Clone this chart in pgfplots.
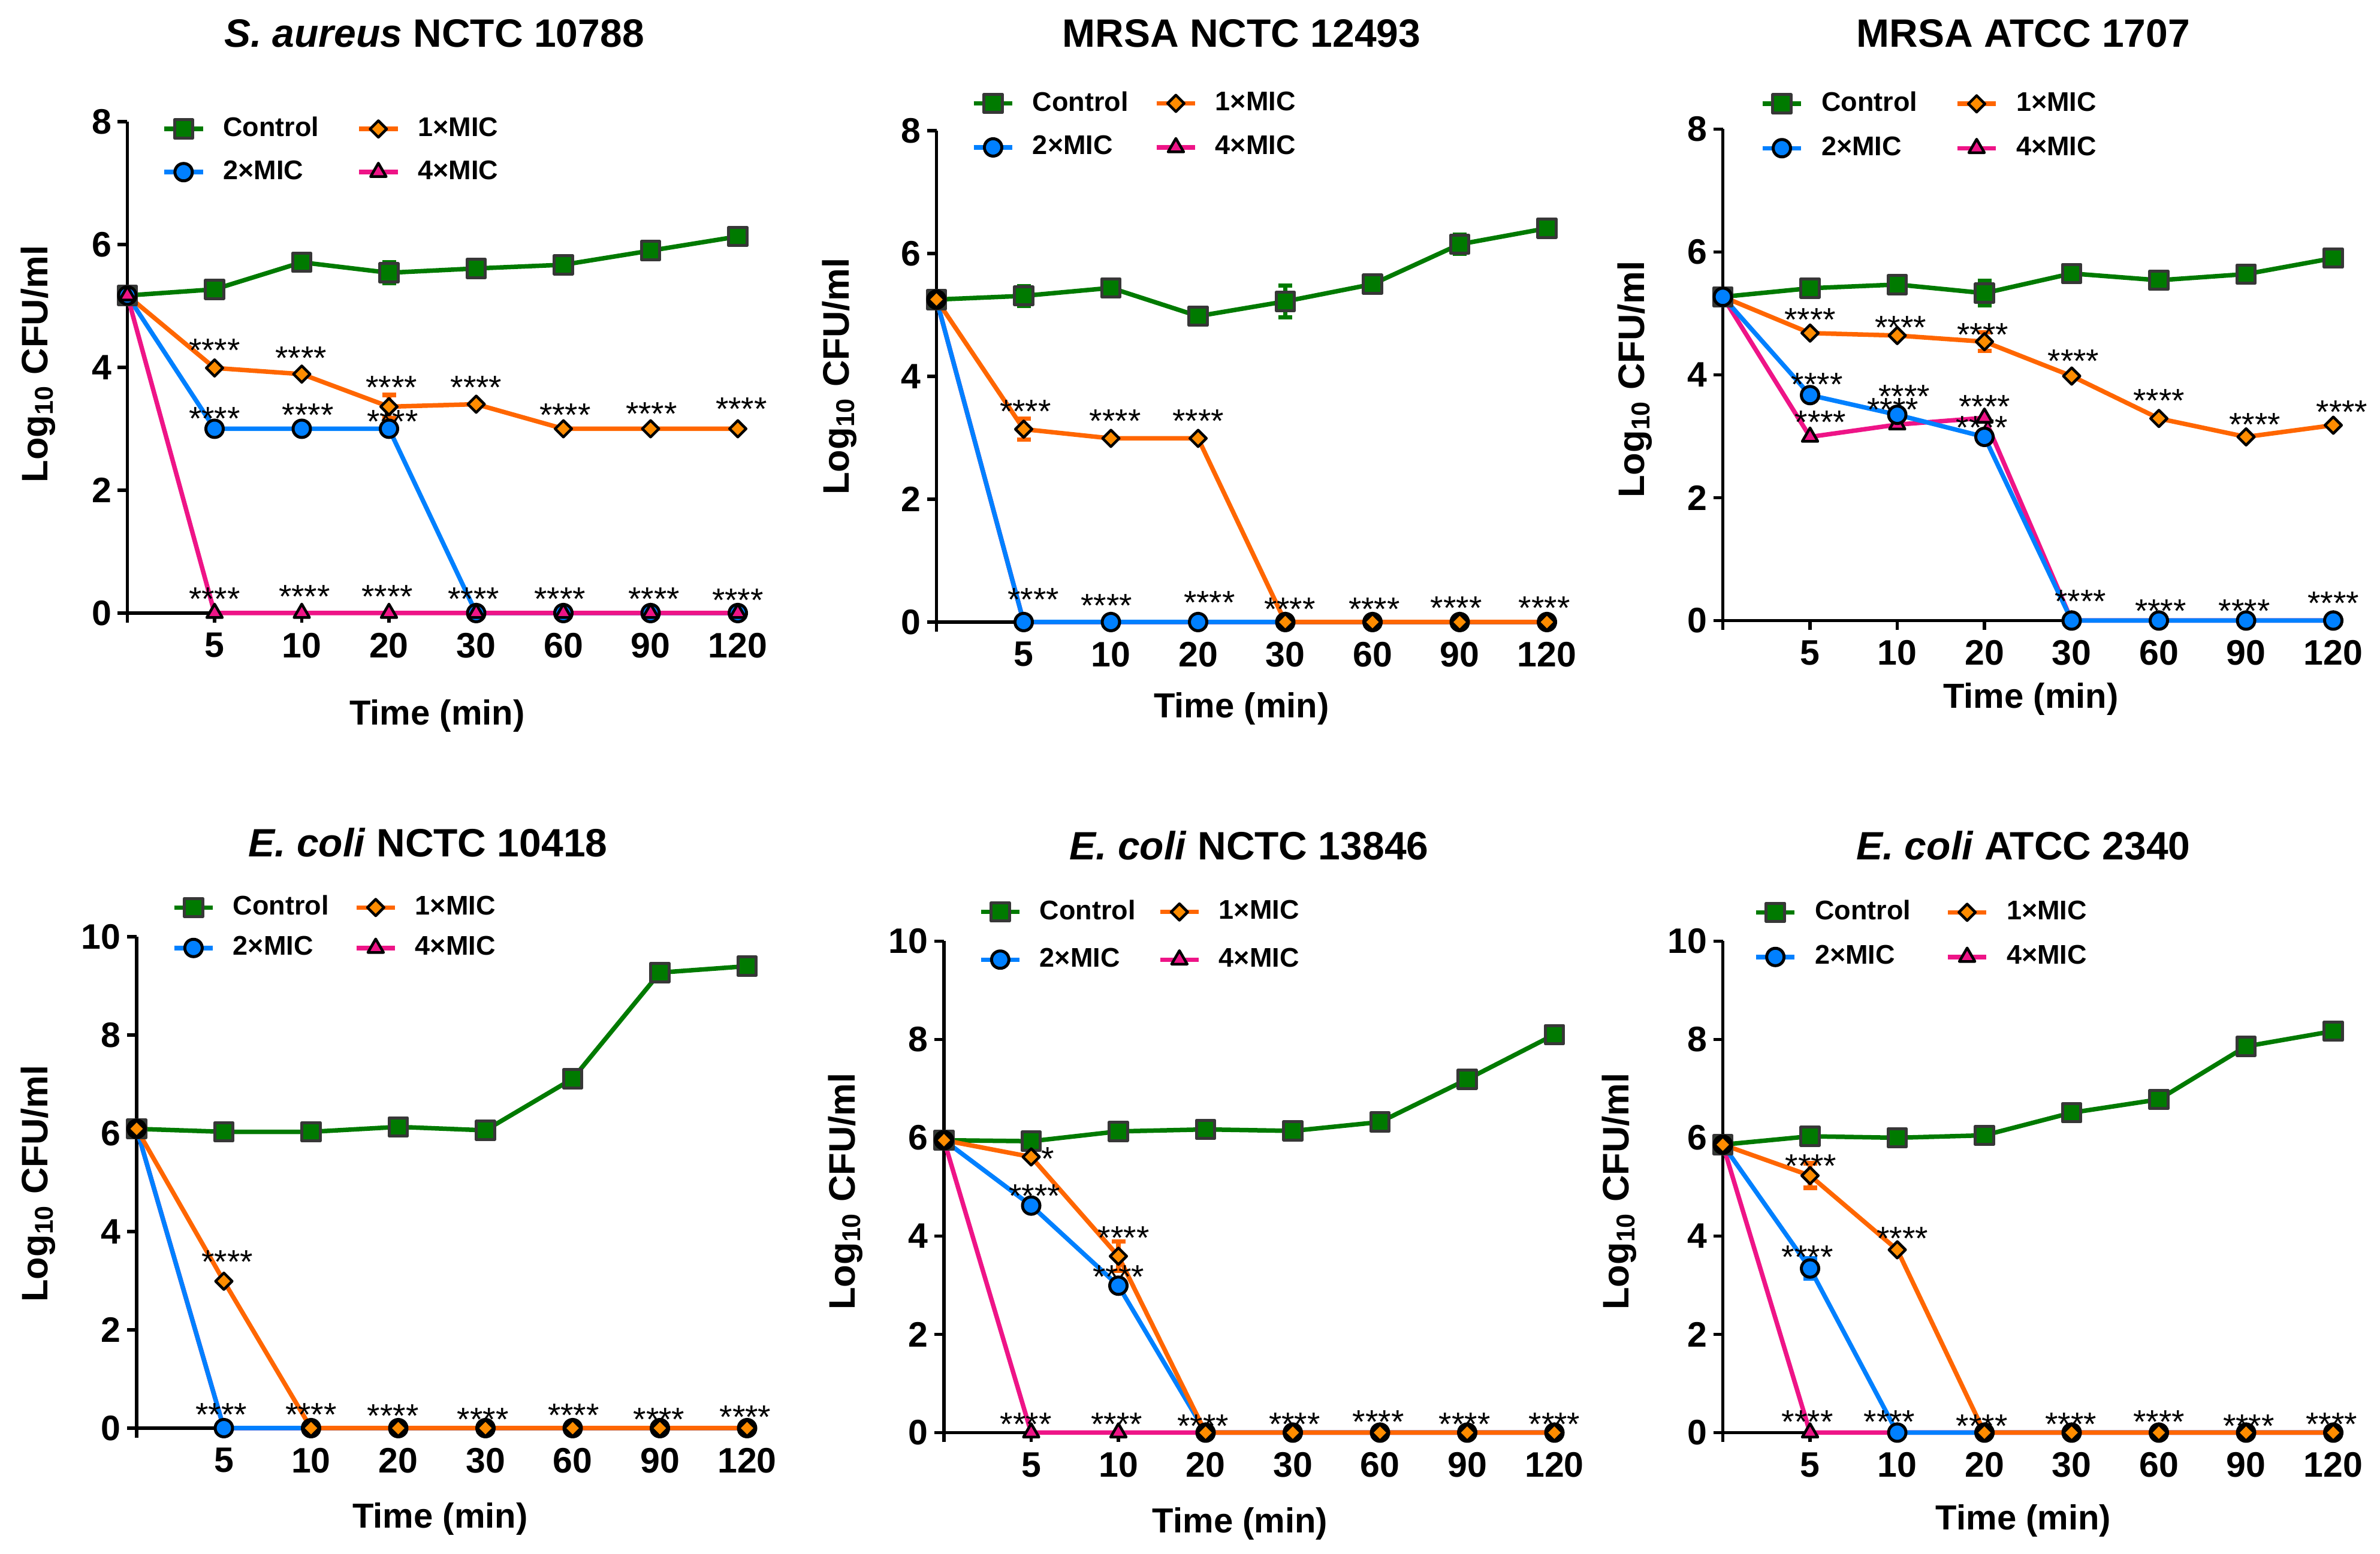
\documentclass[border=0pt]{standalone}
\usepackage{fontspec}
\setmainfont{Liberation Sans}
\usepackage{pgfplots}
\pgfplotsset{compat=1.18}
\usetikzlibrary{plotmarks}

\definecolor{cgreen}{RGB}{0,122,0}
\definecolor{cedge}{RGB}{55,55,55}
\definecolor{corange}{RGB}{255,102,0}
\definecolor{cofill}{RGB}{255,140,0}
\definecolor{cblue}{RGB}{0,128,255}
\definecolor{cpink}{RGB}{238,20,135}

\pgfplotsset{
  ctrl/.style={cgreen, line width=1.5pt, line join=round, mark=square*, mark size=3.05pt,
    mark options={solid, fill=cgreen, draw=cedge, line width=1.0pt, line join=round, rotate=0}},
  one/.style={corange, line width=1.5pt, line join=round, mark=square*, mark size=1.95pt,
    mark options={solid, rotate=45, fill=cofill, draw=black, line width=0.9pt}},
  two/.style={cblue, line width=1.5pt, line join=round, mark=*, mark size=2.9pt,
    mark options={solid, fill=cblue, draw=black, line width=1.0pt}},
  four/.style={cpink, line width=1.5pt, line join=round, mark=triangle*, mark size=3.0pt,
    mark options={solid, fill=cpink, draw=black, line width=0.9pt, line join=round}},
  eb/.style={error bars/y dir=both, error bars/y explicit,
    error bars/error bar style={line width=1.5pt},
    error bars/error mark options={rotate=90, line width=1.5pt, mark size=2.3pt}},
  panel/.style={
    anchor=origin, x=29.1pt, xmin=0, xmax=7.1, ymin=0,
    axis x line*=bottom, axis y line*=left,
    axis line style={line width=1.1pt, black},
    every tick/.style={black, line width=1.1pt},
    major tick length=3.2pt, tick align=outside,
    xtick={0,...,7}, xticklabels={,5,10,20,30,60,90,120},
    ticklabel style={font=\fontsize{11.8}{13}\bfseries},
    xticklabel style={anchor=north, inner sep=0pt, yshift=-3.2pt},
    yticklabel style={anchor=east, inner sep=0pt, xshift=-1.9pt},
    clip=false,
    legend columns=2, legend cell align=left,
    legend image code/.code={\draw[mark repeat=2,mark phase=2,##1] plot coordinates {(0pt,0pt) (6.45pt,0pt) (12.9pt,0pt)};},
    legend style={draw=none, fill=none, inner sep=0pt, outer sep=0pt, anchor=west,
      nodes={inner sep=0pt, font=\fontsize{9}{10}\bfseries},
      /tikz/column 1/.style={column sep=6.0pt},
      /tikz/column 3/.style={column sep=6.0pt}},
  },
  top/.style={y=20.5pt, ymax=8, ytick={0,2,4,6,8}, yticklabels={0,2,4,6,8}},
  bot/.style={y=16.4pt, ymax=10, ytick={0,2,4,6,8,10}, yticklabels={0,2,4,6,8,10}},
}
\tikzset{stn/.style={anchor=base, yshift=-6.3pt, inner sep=0pt, font=\fontsize{11}{12}\selectfont},
  ttl/.style={font=\fontsize{13.2}{15}\bfseries, inner sep=0pt},
  xl/.style={font=\fontsize{11.6}{13}\bfseries, inner sep=0pt},
  yl/.style={font=\fontsize{12.3}{14}\bfseries, inner sep=0pt, rotate=90}}
\newcommand{\st}[3][****]{\node[stn] at (axis cs:#2,#3) {#1};}
\newcommand{\legs}{%
  \addlegendimage{ctrl}\addlegendentry{Control}
  \addlegendimage{one}\addlegendentry{1×MIC}
  \addlegendimage{two}\addlegendentry{2×MIC}
  \addlegendimage{four}\addlegendentry{4×MIC}}

\begin{document}
\begin{tikzpicture}
\useasboundingbox (0,0) rectangle (794.2pt,518.6pt);

% ---------- Panel 1 ----------
\begin{axis}[panel, top, at={(42.5pt,314.0pt)},
  legend style={at={(0.056,0.9415)}, row sep=6.5pt, /tikz/column 2/.style={column sep=12.6pt}}]
\legs
\addplot[ctrl, forget plot, eb] table[row sep=\\, y error=e]{x y e\\ 0 5.17 0\\ 1 5.27 0\\ 2 5.71 0\\ 3 5.54 0.17\\ 4 5.61 0\\ 5 5.67 0\\ 6 5.90 0\\ 7 6.13 0\\};
\addplot[one, forget plot, eb] table[row sep=\\, y error=e]{x y e\\ 0 5.17 0\\ 1 3.99 0\\ 2 3.89 0\\ 3 3.36 0.19\\ 4 3.40 0\\ 5 3.00 0\\ 6 3.00 0\\ 7 3.00 0\\};
\addplot[two, forget plot] coordinates {(0,5.17) (1,3) (2,3) (3,3) (4,0) (5,0) (6,0) (7,0)};
\addplot[four, forget plot] coordinates {(0,5.17) (1,0) (2,0) (3,0) (4,0) (5,0) (6,0) (7,0)};
\st{1.00}{4.40}\st{1.99}{4.27}\st{3.03}{3.79}\st{4.0}{3.79}\st{5.02}{3.35}\st{6.01}{3.37}\st{7.04}{3.44}
\st{1.0}{3.29}\st{2.07}{3.35}\st{3.04}{3.24}
\st{1.0}{0.35}\st{2.03}{0.39}\st{2.98}{0.39}\st{3.97}{0.35}\st{4.96}{0.35}\st{6.04}{0.35}\st{7.0}{0.33}
\end{axis}

% ---------- Panel 2 ----------
\begin{axis}[panel, top, at={(312.5pt,311.0pt)},
  legend style={at={(0.0566,1.011)}, row sep=6.8pt, /tikz/column 2/.style={column sep=8.6pt}}]
\legs
\addplot[ctrl, forget plot, eb] table[row sep=\\, y error=e]{x y e\\ 0 5.25 0\\ 1 5.31 0.16\\ 2 5.44 0\\ 3 4.98 0\\ 4 5.22 0.26\\ 5 5.50 0.10\\ 6 6.15 0.15\\ 7 6.41 0\\};
\addplot[four, forget plot] coordinates {(0,5.25) (1,0) (2,0) (3,0) (4,0) (5,0) (6,0) (7,0)};
\addplot[two, forget plot] coordinates {(0,5.25) (1,0) (2,0) (3,0) (4,0) (5,0) (6,0) (7,0)};
\addplot[one, forget plot, eb] table[row sep=\\, y error=e]{x y e\\ 0 5.25 0\\ 1 3.14 0.17\\ 2 2.99 0\\ 3 2.99 0\\ 4 0 0\\ 5 0 0\\ 6 0 0\\ 7 0 0\\};
\st{1.02}{3.55}\st{2.05}{3.39}\st{3.0}{3.39}
\st{1.11}{0.49}\st{1.95}{0.39}\st{3.13}{0.44}\st{4.05}{0.33}\st{5.02}{0.33}\st{5.96}{0.35}\st{6.97}{0.35}
\end{axis}

% ---------- Panel 3 ----------
\begin{axis}[panel, top, at={(574.9pt,311.5pt)},
  legend style={at={(0.0605,1.0067)}, row sep=6.9pt, /tikz/column 2/.style={column sep=12.6pt}}]
\legs
\addplot[ctrl, forget plot, eb] table[row sep=\\, y error=e]{x y e\\ 0 5.27 0\\ 1 5.41 0\\ 2 5.47 0\\ 3 5.33 0.20\\ 4 5.65 0.12\\ 5 5.54 0.12\\ 6 5.64 0\\ 7 5.90 0\\};
\addplot[one, forget plot, eb] table[row sep=\\, y error=e]{x y e\\ 0 5.27 0\\ 1 4.68 0\\ 2 4.64 0\\ 3 4.54 0.15\\ 4 3.98 0\\ 5 3.29 0\\ 6 2.99 0\\ 7 3.18 0\\};
\addplot[four, forget plot] coordinates {(0,5.27) (1,2.99) (2,3.19) (3,3.30) (4,0) (5,0) (6,0) (7,0)};
\addplot[two, forget plot] coordinates {(0,5.27) (1,3.67) (2,3.35) (3,2.99) (4,0) (5,0) (6,0) (7,0)};
\st{1.0}{5.02}\st{2.04}{4.89}\st{2.98}{4.78}\st{4.02}{4.35}\st{5.0}{3.70}\st{6.10}{3.31}\st{7.1}{3.52}
\st{1.08}{3.97}\st{1.95}{3.56}\st{3.0}{3.60}\st{1.12}{3.35}\st{2.08}{3.77}\st{2.97}{3.26}
\st{4.1}{0.43}\st{5.02}{0.28}\st{5.98}{0.28}\st{7.0}{0.40}
\end{axis}

% ---------- Panel 4 ----------
\begin{axis}[panel, bot, at={(45.6pt,42.0pt)},
  legend style={at={(0.057,1.0186)}, row sep=5.6pt, /tikz/column 2/.style={column sep=8.4pt}}]
\legs
\addplot[ctrl, forget plot] coordinates {(0,6.09) (1,6.03) (2,6.03) (3,6.13) (4,6.06) (5,7.11) (6,9.27) (7,9.40)};
\addplot[four, forget plot] coordinates {(0,6.09) (1,0) (2,0) (3,0) (4,0) (5,0) (6,0) (7,0)};
\addplot[two, forget plot] coordinates {(0,6.09) (1,0) (2,0) (3,0) (4,0) (5,0) (6,0) (7,0)};
\addplot[one, forget plot] coordinates {(0,6.09) (1,2.99) (2,0) (3,0) (4,0) (5,0) (6,0) (7,0)};
\st{1.04}{3.54}
\st{0.97}{0.43}\st{2.0}{0.43}\st{2.94}{0.40}\st{3.97}{0.33}\st{5.01}{0.42}\st{5.99}{0.33}\st{6.98}{0.38}
\end{axis}

% ---------- Panel 5 ----------
\begin{axis}[panel, bot, at={(315.0pt,40.5pt)},
  legend style={at={(0.056,1.0113)}, row sep=8.0pt, /tikz/column 2/.style={column sep=7.4pt}}]
\legs
\addplot[ctrl, forget plot] coordinates {(0,5.95) (1,5.93) (2,6.13) (3,6.17) (4,6.14) (5,6.32) (6,7.19) (7,8.10)};
\addplot[four, forget plot] coordinates {(0,5.95) (1,0) (2,0) (3,0) (4,0) (5,0) (6,0) (7,0)};
\addplot[two, forget plot] coordinates {(0,5.95) (1,4.62) (2,2.99) (3,0) (4,0) (5,0) (6,0) (7,0)};
\addplot[one, forget plot, eb] table[row sep=\\, y error=e]{x y e\\ 0 5.95 0\\ 1 5.61 0\\ 2 3.59 0.30\\ 3 0 0\\ 4 0 0\\ 5 0 0\\ 6 0 0\\ 7 0 0\\};
\st[*]{1.19}{5.72}
\st{1.04}{4.97}\st{2.06}{4.12}\st{2.0}{3.32}
\st{0.94}{0.32}\st{1.98}{0.32}\st{2.97}{0.29}\st{4.02}{0.32}\st{4.98}{0.37}\st{5.97}{0.32}\st{7.0}{0.32}
\end{axis}

% ---------- Panel 6 ----------
\begin{axis}[panel, bot, at={(574.9pt,40.5pt)},
  legend style={at={(0.050,1.0137)}, row sep=7.0pt, /tikz/column 2/.style={column sep=11.6pt}}]
\legs
\addplot[ctrl, forget plot] coordinates {(0,5.86) (1,6.03) (2,6.00) (3,6.05) (4,6.51) (5,6.78) (6,7.86) (7,8.17)};
\addplot[four, forget plot] coordinates {(0,5.86) (1,0) (2,0) (3,0) (4,0) (5,0) (6,0) (7,0)};
\addplot[two, forget plot, eb] table[row sep=\\, y error=e]{x y e\\ 0 5.86 0\\ 1 3.34 0.20\\ 2 0 0\\ 3 0 0\\ 4 0 0\\ 5 0 0\\ 6 0 0\\ 7 0 0\\};
\addplot[one, forget plot, eb] table[row sep=\\, y error=e]{x y e\\ 0 5.86 0\\ 1 5.23 0.25\\ 2 3.72 0\\ 3 0 0\\ 4 0 0\\ 5 0 0\\ 6 0 0\\ 7 0 0\\};
\st{1.01}{5.58}\st{2.06}{4.10}\st{0.97}{3.72}
\st{0.97}{0.37}\st{1.91}{0.37}\st{2.97}{0.29}\st{3.99}{0.32}\st{5.0}{0.37}\st{6.03}{0.29}\st{6.98}{0.32}
\end{axis}

% ---------- Titles and axis labels ----------
\node[ttl] at (144.9pt,507.5pt) {\textit{S. aureus} NCTC 10788};
\node[ttl] at (414.3pt,507.5pt) {MRSA NCTC 12493};
\node[ttl] at (675.2pt,507.5pt) {MRSA ATCC 1707};
\node[ttl] at (142.8pt,237.5pt) {\textit{E. coli} NCTC 10418};
\node[ttl] at (416.8pt,236.5pt) {\textit{E. coli} NCTC 13846};
\node[ttl] at (675.2pt,236.5pt) {\textit{E. coli} ATCC 2340};

\node[xl] at (145.9pt,279.6pt) {Time (min)};
\node[xl] at (414.3pt,282.1pt) {Time (min)};
\node[xl] at (677.7pt,285.2pt) {Time (min)};
\node[xl] at (146.9pt,11.7pt) {Time (min)};
\node[xl] at (413.8pt,10.1pt) {Time (min)};
\node[xl] at (675.2pt,11.1pt) {Time (min)};

\node[yl] at (12.7pt,397.1pt) {Log\textsubscript{10} CFU/ml};
\node[yl] at (280.1pt,393.0pt) {Log\textsubscript{10} CFU/ml};
\node[yl] at (545.5pt,392.0pt) {Log\textsubscript{10} CFU/ml};
\node[yl] at (12.7pt,123.6pt) {Log\textsubscript{10} CFU/ml};
\node[yl] at (282.1pt,121.0pt) {Log\textsubscript{10} CFU/ml};
\node[yl] at (540.4pt,121.0pt) {Log\textsubscript{10} CFU/ml};
\end{tikzpicture}
\end{document}
